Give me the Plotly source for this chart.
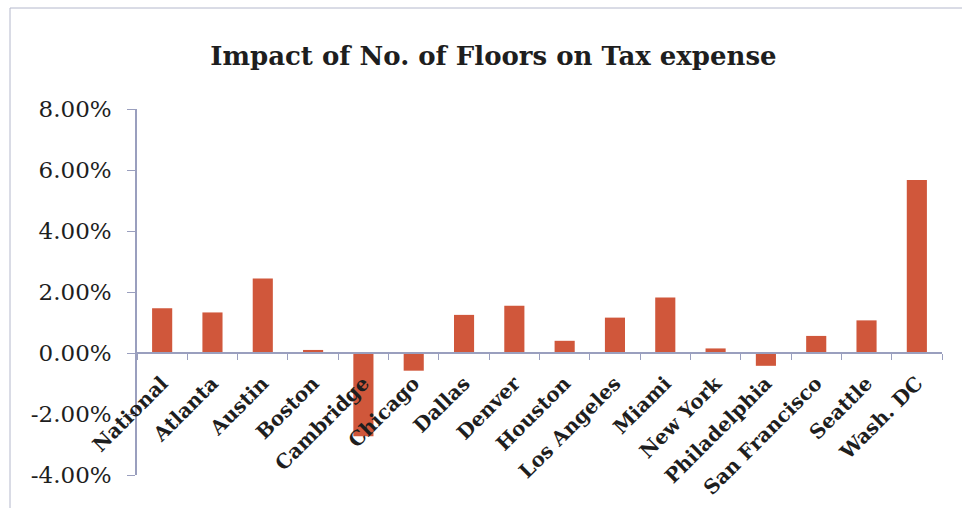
import plotly.graph_objects as go

# Impact of number of floors on tax expense, by market
cities = ["National", "Atlanta", "Austin", "Boston", "Cambridge", "Chicago",
          "Dallas", "Denver", "Houston", "Los Angeles", "Miami", "New York",
          "Philadelphia", "San Francisco", "Seattle", "Wash. DC"]
impact = [0.0147, 0.0133, 0.0244, 0.0010, -0.0273, -0.0058,
          0.0125, 0.0155, 0.0040, 0.0116, 0.0182, 0.0015,
          -0.0042, 0.0056, 0.0107, 0.0567]

y_range = [-0.04, 0.08]
y_ticks = [-0.04, -0.02, 0.0, 0.02, 0.04, 0.06, 0.08]
y_tick_text = [f"{v * 100:.2f}%" for v in y_ticks]

W, H = 962, 508
ML, MR, MT, MB = 137, 20, 109, 33
plot_w = W - ML - MR
plot_h = H - MT - MB

AXIS = "#9a9fbe"
BAR = "#d0573b"
TEXT = "#1e1e1e"
SERIF = "DejaVu Serif"

# x axis sits on the zero line of the value axis
zero_pos = (0 - y_range[0]) / (y_range[1] - y_range[0])

fig = go.Figure(go.Bar(
    x=cities, y=impact,
    marker=dict(color=BAR, line=dict(width=0)),
))

# frame lines along the top and left edge of the chart area
def px_x(p):
    return (p - ML) / plot_w

def px_y(p):
    return 1 - (p - MT) / plot_h

line_style = dict(color="#b4b8cc", width=1)
fig.add_shape(type="line", xref="paper", yref="paper",
              x0=px_x(10), x1=px_x(W + 5), y0=px_y(8), y1=px_y(8), line=line_style)
fig.add_shape(type="line", xref="paper", yref="paper",
              x0=px_x(10), x1=px_x(10), y0=px_y(8), y1=px_y(H + 5), line=line_style)

fig.update_layout(
    width=W, height=H,
    margin=dict(l=ML, r=MR, t=MT, b=MB),
    paper_bgcolor="white", plot_bgcolor="white",
    bargap=0.6,
    showlegend=False,
    title=dict(
        text="<b>Impact of No. of Floors on Tax expense</b>",
        font=dict(family=SERIF, size=26, color=TEXT),
        xref="container", x=0.513, xanchor="center",
        yref="container", y=1 - 56 / H, yanchor="middle",
    ),
    xaxis=dict(
        anchor="free", position=zero_pos, automargin=False,
        showline=True, linecolor=AXIS, linewidth=1.5,
        ticks="outside", tickson="boundaries", ticklen=6, tickcolor=AXIS,
        tickangle=-45, ticklabelstandoff=10,
        tickfont=dict(family=SERIF, size=20, color=TEXT, weight="bold"),
        showgrid=False, zeroline=False,
    ),
    yaxis=dict(
        range=y_range, tickvals=y_ticks, ticktext=y_tick_text, automargin=False,
        showline=True, linecolor=AXIS, linewidth=1.5,
        ticks="outside", ticklen=8, tickcolor=AXIS, ticklabelstandoff=11,
        tickfont=dict(family=SERIF, size=23, color=TEXT),
        showgrid=False, zeroline=False,
    ),
)

fig.write_html("out.html")
